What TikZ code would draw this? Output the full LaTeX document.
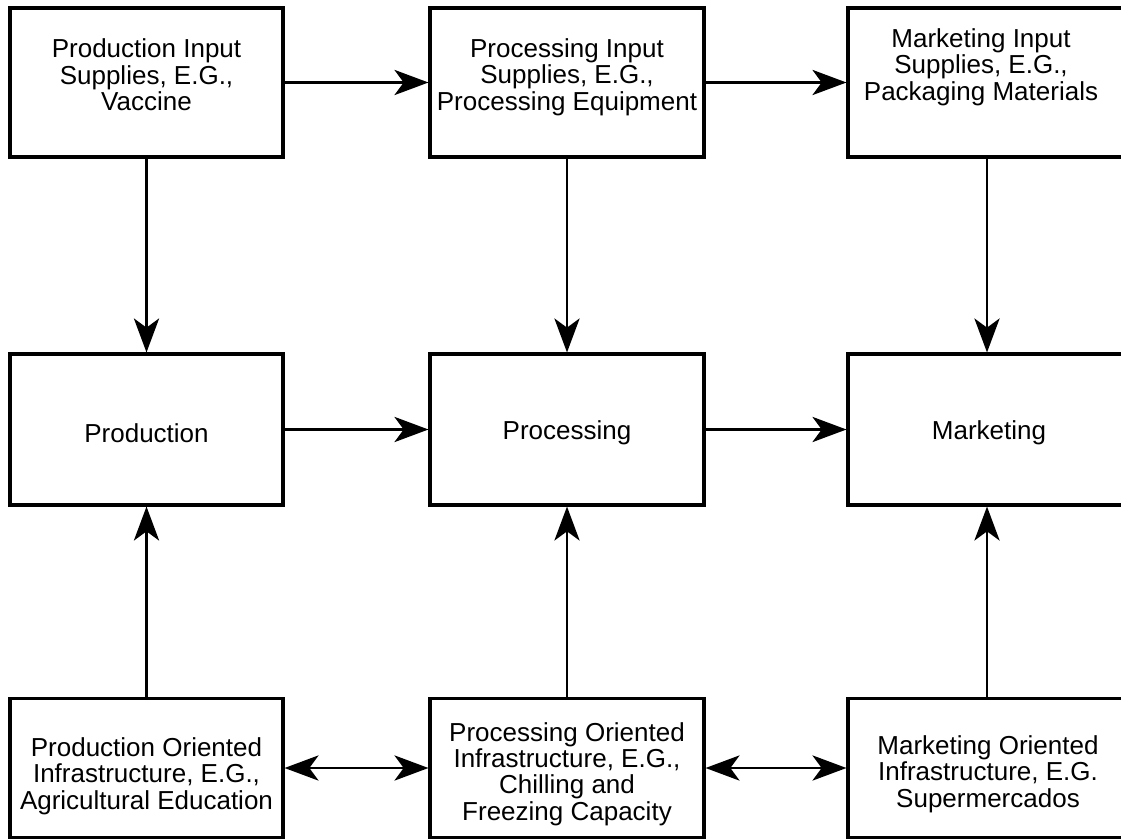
\documentclass[tikz,border=0pt]{standalone}
\usepackage{fontspec}
\setmainfont{Liberation Sans}
\usetikzlibrary{arrows.meta}

\begin{document}
\begin{tikzpicture}[x=0.25mm,y=-0.25mm,
    box/.style={draw,line width=2.2pt,inner sep=0pt},
    txt/.style={align=center,inner sep=0pt,font=\fontsize{18.5}{18.8}\selectfont},
    tip/.tip={Stealth[length=8.5mm,width=6.3mm,inset=2.3mm]},
    flow/.style={line width=1.8pt,-tip},
    both/.style={line width=1.8pt,tip-tip}]
  \clip (0,0) rectangle (1121,839);

  % input supplies
  \node[box,minimum width=68.25mm,minimum height=37.25mm] (prodin) at (146.5,82.5) {};
  \node[box,minimum width=68.5mm,minimum height=37.25mm] (procin) at (567,82.5) {};
  \node[box,minimum width=69.5mm,minimum height=37.25mm] (mktin) at (987,82.5) {};
  \node[txt] (prodintxt) at (146.5,75) {Production Input\\Supplies, E.G.,\\Vaccine};
  \node[txt] (procintxt) at (567,77) {Processing Input\\Supplies, E.G.,\\Processing Equipment};
  \node[txt] (mktintxt) at (981,67) {Marketing Input\\Supplies, E.G.,\\Packaging Materials};

  % stages
  \node[box,minimum width=68.25mm,minimum height=37.75mm] (prod) at (146.5,429.5) {};
  \node[box,minimum width=68.5mm,minimum height=37.75mm] (proc) at (567,429.5) {};
  \node[box,minimum width=69.5mm,minimum height=37.75mm] (mkt) at (987,429.5) {};
  \node[txt] (prodtxt) at (146.5,433) {Production};
  \node[txt] (proctxt) at (567,433) {Processing};
  \node[txt] (mkttxt) at (989,433) {Marketing};

  % infrastructure
  \node[box,minimum width=68.25mm,minimum height=34.75mm] (prodinf) at (146.5,768) {};
  \node[box,minimum width=68.5mm,minimum height=34.75mm] (procinf) at (567,768) {};
  \node[box,minimum width=69.5mm,minimum height=34.75mm] (mktinf) at (987,768) {};
  \node[txt] (prodinftxt) at (146.5,776) {Production Oriented\\Infrastructure, E.G.,\\Agricultural Education};
  \node[txt] (procinftxt) at (567,774) {Processing Oriented\\Infrastructure, E.G.,\\Chilling and\\Freezing Capacity};
  \node[txt] (mktinftxt) at (988,774) {Marketing Oriented\\Infrastructure, E.G.\\Supermercados};

  \draw[flow] (prodin) -- (procin);
  \draw[flow] (procin) -- (mktin);
  \draw[flow] (prod) -- (proc);
  \draw[flow] (proc) -- (mkt);
  \foreach \a/\b in {prodin/prod,procin/proc,mktin/mkt,prodinf/prod,procinf/proc,mktinf/mkt}
    \draw[flow] (\a) -- (\b);
  \draw[both] (prodinf) -- (procinf);
  \draw[both] (procinf) -- (mktinf);
\end{tikzpicture}
\end{document}
